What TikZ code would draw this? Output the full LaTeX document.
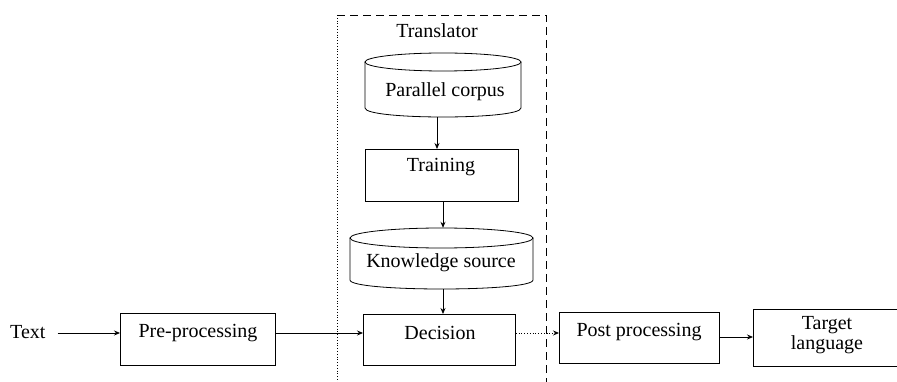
\documentclass[tikz,border=0pt]{standalone}
\usepackage{fontspec}
\setmainfont{Liberation Serif}
\usetikzlibrary{arrows.meta}
\begin{document}
\begin{tikzpicture}[x=1pt,y=-1pt,
  box/.style={draw=black, line width=0.8pt, minimum width=#1, anchor=north west},
  lbl/.style={font=\fontsize{20}{23}\selectfont, inner sep=0pt, align=center},
  conn/.style={line width=0.8pt, -{Stealth[length=6pt,width=5pt]}},
  cyl/.style={draw=black, line width=0.8pt, fill=white}]
\useasboundingbox (0,0) rectangle (897,382);
% translator frame
\draw[line width=0.8pt, dash pattern=on 8pt off 5pt] (337,15) -- (546,15) -- (546,390);
\draw[line width=0.8pt, dotted] (337,15) -- (337,390);
\node[lbl] (trT) at (437,31) {Translator};
% parallel corpus cylinder
\draw[cyl] (365,62) -- (365,108) .. controls (365,120) and (521,120) .. (521,108) -- (521,62);
\draw[cyl] (443,62) ellipse [x radius=78pt, y radius=9pt];
\node[minimum width=156pt, minimum height=55pt, inner sep=0pt] (pc) at (443,89.5) {};
\node[lbl] (pcT) at (445,92) {Parallel corpus};
% training
\node[box=153pt, minimum height=52pt] (tr) at (365,149) {};
\node[lbl] (trnT) at (441,167) {Training};
% knowledge source cylinder
\draw[cyl] (350,238) -- (350,280) .. controls (350,292) and (533,292) .. (533,280) -- (533,238);
\draw[cyl] (441.5,238) ellipse [x radius=91.5pt, y radius=10pt];
\node[minimum width=183pt, minimum height=61pt, inner sep=0pt] (ks) at (441.5,258.5) {};
\node[lbl] (ksT) at (441,263) {Knowledge source};
% decision
\node[box=152pt, minimum height=51pt] (dec) at (363,314) {};
\node[lbl] (decT) at (440,333) {Decision};
% text
\node[lbl, anchor=west] (txt) at (10,332) {Text};
% pre-processing
\node[box=155pt, minimum height=52pt] (pre) at (120,313) {};
\node[lbl] (preT) at (198,333) {Pre-processing};
% post processing
\node[box=160pt, minimum height=51pt] (post) at (559,312) {};
\node[lbl] (postT) at (639,332) {Post processing};
% target language (runs off the right edge)
\node[minimum width=150pt, minimum height=57pt, anchor=north west, inner sep=0pt] (tgt) at (753,309) {};
\draw[line width=0.8pt] (tgt.north east) -- (tgt.north west) -- (tgt.south west) -- (tgt.south east);
\node[lbl, align=center] (tgtT) at (827,335) {Target\\[-3pt]language};
% connectors
\draw[conn] (pc.south -| 437,0) -- (tr.north -| 437,0);
\draw[conn] (tr.south -| 443,0) -- (ks.north -| 443,0);
\draw[conn] (ks.south -| 443,0) -- (dec.north -| 443,0);
\draw[conn] ([xshift=12pt]txt.east |- 0,333) -- (pre.west |- 0,333);
\draw[conn] (pre.east |- 0,333) -- (dec.west |- 0,333);
\draw[conn, dotted] (dec.east |- 0,333) -- (post.west |- 0,333);
\draw[conn] (post.east |- 0,337) -- (tgt.west |- 0,337);
\end{tikzpicture}
\end{document}
